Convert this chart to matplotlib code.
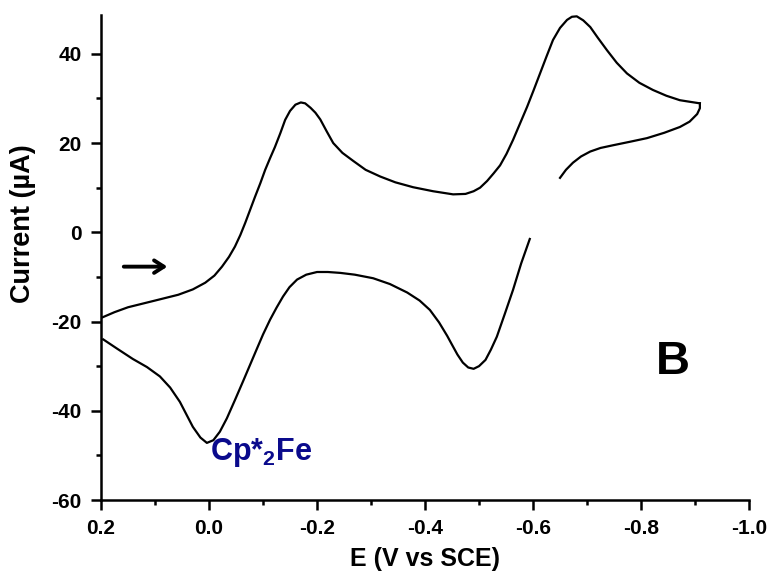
import matplotlib
matplotlib.use("Agg")
import matplotlib.pyplot as plt
import numpy as np

plt.rcParams['font.family'] = ['Liberation Sans', 'DejaVu Sans']
plt.rcParams['font.weight'] = 'bold'
plt.rcParams['axes.unicode_minus'] = False
plt.rcParams['mathtext.fontset'] = 'custom'
plt.rcParams['mathtext.rm'] = 'Liberation Sans:bold'
plt.rcParams['mathtext.bf'] = 'Liberation Sans:bold'

# forward scan (0.2 V -> -0.9 V)
fwd_E = [0.200, 0.175, 0.150, 0.100, 0.057, 0.030, 0.007, -0.010, -0.024,
         -0.037, -0.048, -0.058, -0.067, -0.076, -0.085, -0.095, -0.104,
         -0.113, -0.122, -0.132, -0.141, -0.150, -0.160, -0.170, -0.178,
         -0.188, -0.197, -0.206, -0.218, -0.230, -0.247, -0.267, -0.290,
         -0.317, -0.345, -0.378, -0.415, -0.452, -0.475, -0.490, -0.502,
         -0.515, -0.527, -0.539, -0.551, -0.563, -0.576, -0.589, -0.601,
         -0.613, -0.625, -0.637, -0.650, -0.663, -0.672, -0.681, -0.693,
         -0.706, -0.720, -0.737, -0.755, -0.774, -0.797, -0.822, -0.847,
         -0.872, -0.893, -0.909]
fwd_I = [-19.2, -17.9, -16.8, -15.3, -14.0, -12.8, -11.3, -9.7, -7.7,
         -5.5, -3.2, -0.6, 2.1, 5.0, 7.9, 11.0, 14.0,
         16.6, 19.1, 22.2, 25.2, 27.2, 28.6, 29.1, 28.9,
         27.9, 26.8, 25.3, 22.6, 20.0, 17.8, 16.0, 14.0,
         12.5, 11.2, 10.1, 9.2, 8.5, 8.6, 9.2, 10.0,
         11.5, 13.2, 15.0, 17.6, 20.7, 24.4, 28.1, 31.8,
         35.6, 39.4, 43.1, 45.8, 47.6, 48.3, 48.4, 47.5,
         46.0, 43.6, 40.8, 38.0, 35.6, 33.5, 31.9, 30.6,
         29.6, 29.2, 28.9]

# reverse scan, part above the gap
rev1_E = [-0.909, -0.909, -0.904, -0.890, -0.872, -0.843, -0.811, -0.780,
          -0.748, -0.725, -0.706, -0.689, -0.674, -0.661, -0.650]
rev1_I = [28.9, 27.8, 26.5, 24.8, 23.6, 22.3, 21.1, 20.3,
          19.5, 18.9, 18.1, 17.0, 15.6, 14.0, 12.2]

# reverse scan, part below the gap
rev2_E = [-0.594, -0.578, -0.563, -0.548, -0.533, -0.522, -0.512, -0.500,
          -0.490, -0.480, -0.470, -0.460, -0.450, -0.441, -0.426, -0.409,
          -0.390, -0.367, -0.335, -0.304, -0.270, -0.243, -0.220, -0.200,
          -0.180, -0.163, -0.149, -0.137, -0.125, -0.113, -0.100, -0.089,
          -0.076, -0.063, -0.048, -0.033, -0.020, -0.008, 0.004, 0.016,
          0.030, 0.042, 0.054, 0.072, 0.091, 0.115, 0.141, 0.170, 0.196]
rev2_I = [-1.5, -7.0, -12.9, -18.2, -23.4, -26.3, -28.6, -30.0,
          -30.6, -30.3, -29.2, -27.4, -25.2, -23.2, -20.2, -17.4,
          -15.3, -13.5, -11.6, -10.3, -9.5, -9.1, -8.9, -8.9,
          -9.5, -10.6, -12.3, -14.4, -16.9, -19.6, -22.9, -26.0,
          -29.7, -33.4, -37.6, -41.7, -44.7, -46.6, -47.2, -46.0,
          -43.6, -40.8, -38.0, -34.8, -32.3, -30.2, -28.4, -26.1, -24.0]

fig = plt.figure(figsize=(7.79, 5.81), dpi=100)
ax = fig.add_axes([0.1297, 0.1394, 0.8318, 0.8348])

lw = 1.6
ax.plot(fwd_E, fwd_I, color='black', lw=lw)
ax.plot(rev1_E, rev1_I, color='black', lw=lw)
ax.plot(rev2_E, rev2_I, color='black', lw=lw)

ax.set_xlim(0.2, -1.0)
ax.set_ylim(-60, 48.7)

ax.spines['top'].set_visible(False)
ax.spines['right'].set_visible(False)
for s in ['left', 'bottom']:
    ax.spines[s].set_linewidth(1.8)

ax.set_xticks(np.arange(0.2, -1.01, -0.2))
ax.set_xticks(np.arange(0.1, -1.0, -0.2), minor=True)
ax.set_yticks(np.arange(-60, 41, 20))
ax.set_yticks(np.arange(-50, 41, 20), minor=True)
ax.set_xticklabels(['0.2', '0.0', '-0.2', '-0.4', '-0.6', '-0.8', '-1.0'])
ax.tick_params(which='major', direction='out', length=7, width=1.8,
               labelsize=15, pad=7)
ax.tick_params(which='minor', direction='out', length=3.5, width=1.8)

ax.set_xlabel('E (V vs SCE)', fontsize=18, fontweight='bold', labelpad=6)
ax.set_ylabel('Current (\u00b5A)', fontsize=19.5, fontweight='bold')
ax.yaxis.set_label_coords(-0.1, 0.57)

ax.text(-0.002, -51.1, r'Cp*$_\mathbf{2}$Fe', fontsize=22, fontweight='bold',
        color='#0A0A8C', ha='left', va='baseline')
ax.text(-0.828, -31.7, 'B', fontsize=34, fontweight='bold', color='black',
        ha='left', va='baseline')

ax.annotate('', xy=(0.072, -7.7), xytext=(0.163, -7.7),
            arrowprops=dict(arrowstyle='->, head_length=0.7, head_width=0.45',
                            lw=2.8, color='black'))

fig.savefig('out.png', dpi=100)
